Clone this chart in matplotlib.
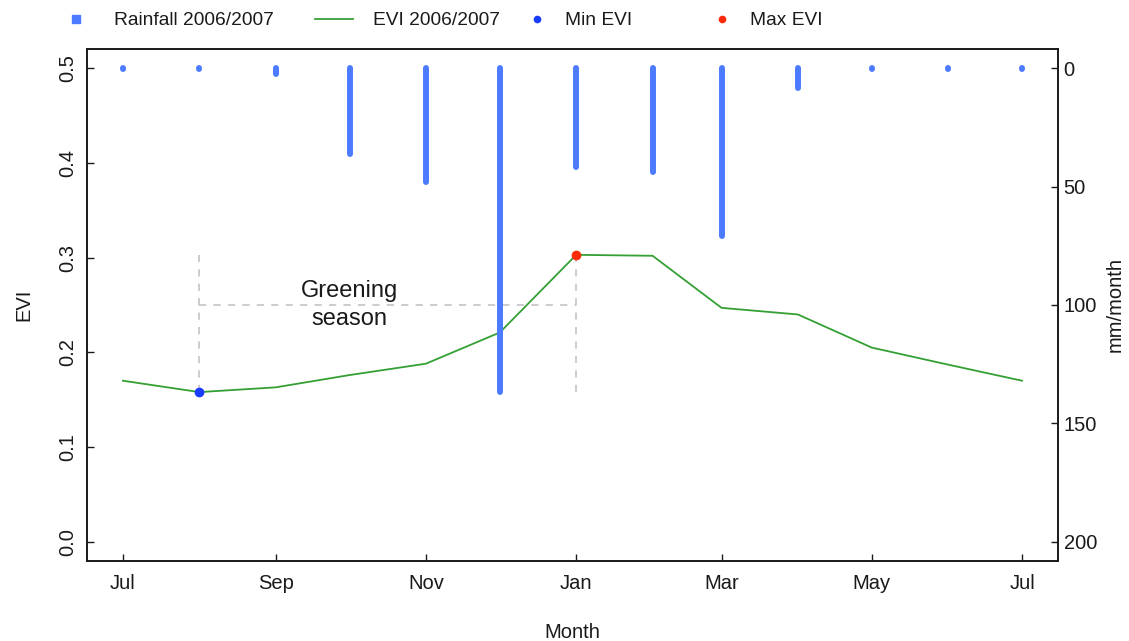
import matplotlib
matplotlib.use("Agg")
import matplotlib.pyplot as plt
import matplotlib.dates as mdates
from matplotlib.lines import Line2D
import numpy as np
import pandas as pd

plt.rcParams['font.family'] = ['Liberation Sans', 'DejaVu Sans']

# ---- data ----
months = ["2006-07-01", "2006-08-01", "2006-09-01", "2006-10-01", "2006-11-01",
          "2006-12-01", "2007-01-01", "2007-02-01", "2007-03-01", "2007-04-01",
          "2007-05-01", "2007-06-01", "2007-07-01"]
evi = [0.170, 0.158, 0.163, 0.176, 0.188, 0.221, 0.303, 0.302, 0.247, 0.240,
       0.205, 0.187, 0.170]
rainfall = [0.2, 0.2, 2.3, 36.4, 48.0, 136.8, 41.6, 43.8, 70.8, 8.2, 0.2, 0.2, 0.2]
greening_level = 0.25
greening_label = "Greening\nseason"
legend_labels = ["Rainfall 2006/2007", "EVI 2006/2007", "Min EVI", "Max EVI"]

dates = pd.to_datetime(months)
evi_arr = np.array(evi)
imin = int(np.argmin(evi_arr))
imax = int(np.argmax(evi_arr))

TXT = '#1a1a1a'
GREEN = '#34a034'
BAR = '#4d7bff'
BLUE = '#1a3cff'
RED = '#ff2a0a'
GRAY = '#c8c8c8'

fig = plt.figure(figsize=(11.29, 6.41), dpi=100)
W, H = 1129, 641
left, right, top, bottom = 87, 1058, 49.4, 560.6
ax = fig.add_axes([left / W, 1 - bottom / H, (right - left) / W, (bottom - top) / H])

# dashed greening markers
ax.plot([dates[imin], dates[imin]], [evi[imin], evi[imax]], ls=(0, (4, 4)), color=GRAY, lw=1.3, zorder=1)
ax.plot([dates[imax], dates[imax]], [evi[imin], evi[imax]], ls=(0, (4, 4)), color=GRAY, lw=1.3, zorder=1)
ax.plot([dates[imin], dates[imax]], [greening_level, greening_level], ls=(0, (4, 4)), color=GRAY, lw=1.3, zorder=1)
ax.text(dates[3], greening_level, greening_label, ha='center', va='center',
        fontsize=17, color=TXT, linespacing=1.4, zorder=2)

ax.plot(dates, evi, color=GREEN, lw=1.3, zorder=3)
ax.plot([dates[imin]], [evi[imin]], 'o', color=BLUE, ms=6, zorder=4)
ax.plot([dates[imax]], [evi[imax]], 'o', color=RED, ms=6, zorder=4)

span = (dates[-1] - dates[0]) * 0.04
ax.set_xlim(dates[0] - span, dates[-1] + span)
ax.set_ylim(-0.02, 0.52)
ax.set_yticks([0.0, 0.1, 0.2, 0.3, 0.4, 0.5])
ax.set_yticklabels(["0.0", "0.1", "0.2", "0.3", "0.4", "0.5"], rotation=90, va='center')
ax.xaxis.set_major_locator(mdates.MonthLocator(bymonth=[1, 3, 5, 7, 9, 11]))
ax.xaxis.set_major_formatter(mdates.DateFormatter('%b'))
ax.tick_params(axis='both', direction='in', length=5, width=1, color=TXT, labelsize=14.5, labelcolor=TXT)
ax.tick_params(axis='x', pad=10)
ax.tick_params(axis='y', pad=7)
ax.set_xlabel("Month", fontsize=14.5, color=TXT, labelpad=21)
ax.set_ylabel("EVI", fontsize=14.5, color=TXT, labelpad=18)

ax2 = ax.twinx()
ax2.vlines(dates, 0, rainfall, colors=BAR, lw=4.3, capstyle='round', zorder=5)
ax2.set_ylim(208, -8)
ax2.set_yticks([0, 50, 100, 150, 200])
ax2.tick_params(axis='y', direction='in', length=5, width=1, color=TXT, labelsize=14.5, labelcolor=TXT, pad=4)
ax2.set_ylabel("mm/month", fontsize=14.5, color=TXT, labelpad=6)

for a in (ax, ax2):
    for s in a.spines.values():
        s.set_linewidth(1.2)
        s.set_color(TXT)

# legend entries placed across top
handles = [
    Line2D([], [], marker='s', ls='none', color=BAR, ms=5.5),
    Line2D([], [], color=GREEN, lw=1.3),
    Line2D([], [], marker='o', ls='none', color=BLUE, ms=4.5),
    Line2D([], [], marker='o', ls='none', color=RED, ms=4.5),
]
positions = [57, 315, 527, 712]
hlens = [2.0, 2.0, 1.0, 1.0]
for h, lab, px, hl in zip(handles, legend_labels, positions, hlens):
    fig.legend([h], [lab], loc='center left', bbox_to_anchor=(px / W, 1 - 20.5 / H),
               frameon=False, borderpad=0, borderaxespad=0, handlelength=hl,
               handletextpad=1.0, fontsize=13.8, labelcolor=TXT)

fig.savefig("out.png", dpi=100)
